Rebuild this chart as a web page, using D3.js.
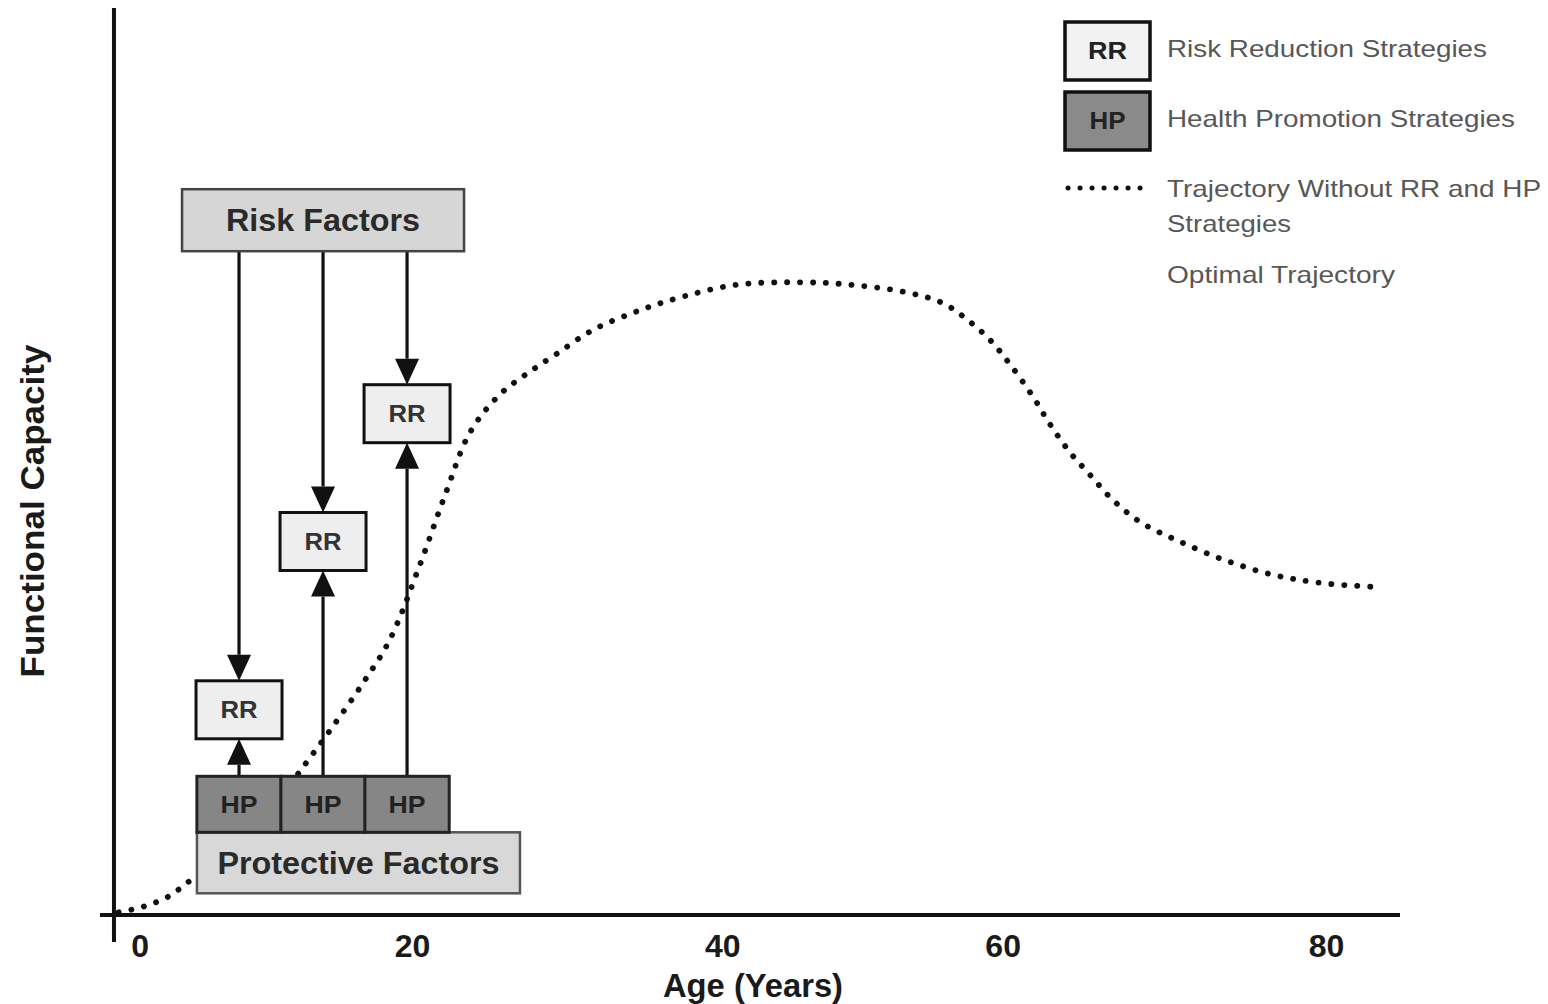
<!DOCTYPE html>
<html><head><meta charset="utf-8">
<script src="https://cdn.jsdelivr.net/npm/d3@7"></script>
<style>
html,body{margin:0;padding:0;background:#fff;}
svg{display:block;font-family:"Liberation Sans",Arial,sans-serif;}
</style></head>
<body>
<svg id="chart" width="1548" height="1004"></svg>
<script>
// ---- data ----
const ages = [-0.6, 1, 2.7, 4.2, 6, 8, 10, 11.6, 13.7, 15.9, 17.7, 19.7, 21.5, 23.1, 25.1, 27, 29, 31.4, 34.1, 36.6, 41, 45.5, 49, 52.5, 55, 56.7, 58.2, 59.5, 61.1, 62.3, 63.6, 64.9, 66.5, 68.4, 71, 74.1, 77.3, 80.5, 84.7];
const capacity = [0.3, 0.9, 2.0, 3.8, 6.0, 8.9, 12.4, 15.9, 20.6, 25.8, 30.6, 38.8, 47.0, 53.6, 57.8, 60.2, 62.4, 65.0, 66.9, 68.3, 70.0, 70.3, 70.0, 69.2, 68.0, 66.1, 63.9, 61.3, 57.6, 54.4, 51.4, 49.0, 46.1, 43.6, 41.5, 39.4, 37.8, 36.9, 36.4];
const xTicks = [0, 20, 40, 60, 80];
const strategyAges = [7.52, 13.19, 18.86];
const rrLevels = [22.8, 41.5, 55.7];
const hpLevel = 12.3;
const riskFactors = {label: "Risk Factors", age: 13.19, level: 77.2};
const protectiveFactors = {label: "Protective Factors", age: 15.58, level: 5.8};
const legendLabels = ["Risk Reduction Strategies", "Health Promotion Strategies", "Trajectory Without RR and HP", "Strategies", "Optimal Trajectory"];
const xTitle = "Age (Years)";
const yTitle = "Functional Capacity";

// ---- scales ----
const x = d3.scaleLinear().domain([0, 80]).range([127.6, 1313]);
const y = d3.scaleLinear().domain([0, 100]).range([915, 15]);

const svg = d3.select("#chart");

// trajectory
const pts = ages.map((a, i) => [a, capacity[i]]);
const line = d3.line().x(d => x(d[0])).y(d => y(d[1])).curve(d3.curveCatmullRom.alpha(0.5));
svg.append("path").attr("d", line(pts))
  .attr("fill", "none").attr("stroke", "#111").attr("stroke-width", 5.8)
  .attr("stroke-linecap", "round").attr("stroke-dasharray", "0.1 12.8");

// axes lines
const ax = x(-0.92);
svg.append("line").attr("x1", ax).attr("x2", ax).attr("y1", 8).attr("y2", 942)
  .attr("stroke", "#111").attr("stroke-width", 4);
svg.append("line").attr("x1", 100).attr("x2", 1400).attr("y1", y(0)).attr("y2", y(0))
  .attr("stroke", "#111").attr("stroke-width", 4);

// tick labels
const xAxis = d3.axisBottom(x).tickValues(xTicks).tickSize(0).tickPadding(0);
const gx = svg.append("g").attr("transform", `translate(0,${y(0)})`).call(xAxis);
gx.select(".domain").remove();
gx.selectAll("text").attr("font-size", 32).attr("font-weight", "bold")
  .attr("font-family", "Liberation Sans, Arial, sans-serif").attr("fill", "#1a1a1a")
  .attr("dy", 0).attr("y", 42)
  .attr("dx", (d, i) => [12, -12, 2, -14, 13][i]);

svg.append("text").attr("x", 753).attr("y", 997).attr("text-anchor", "middle")
  .attr("font-size", 33).attr("font-weight", "bold").attr("fill", "#1a1a1a")
  .attr("textLength", 180).attr("lengthAdjust", "spacingAndGlyphs").text(xTitle);
svg.append("text").attr("transform", "translate(44,511) rotate(-90)").attr("text-anchor", "middle")
  .attr("font-size", 33).attr("font-weight", "bold").attr("fill", "#1a1a1a")
  .attr("textLength", 333).attr("lengthAdjust", "spacingAndGlyphs").text(yTitle);

// arrows
const arrowW = 24, arrowH = 26;
function arrow(px, yFrom, yTo) {
  const dir = yTo > yFrom ? 1 : -1;
  const base = yTo - dir * arrowH;
  svg.append("line").attr("x1", px).attr("x2", px).attr("y1", yFrom).attr("y2", base)
    .attr("stroke", "#111").attr("stroke-width", 3.2);
  svg.append("path").attr("d", `M${px - arrowW / 2},${base}L${px + arrowW / 2},${base}L${px},${yTo}Z`)
    .attr("fill", "#111");
}
const rrW = 86, rrH = 58, hpW = 84.3, hpH = 56;
const rfW = 282, rfH = 62, pfW = 323, pfH = 61;
strategyAges.forEach((a, i) => {
  const px = x(a);
  arrow(px, y(riskFactors.level) + rfH / 2, y(rrLevels[i]) - rrH / 2);
  arrow(px, y(hpLevel) - hpH / 2, y(rrLevels[i]) + rrH / 2);
});

// boxes
function box(cx, cy, w, h, fill, stroke, sw, label, fs, color, tl) {
  svg.append("rect").attr("x", cx - w / 2).attr("y", cy - h / 2).attr("width", w).attr("height", h)
    .attr("fill", fill).attr("stroke", stroke).attr("stroke-width", sw);
  svg.append("text").attr("x", cx).attr("y", cy).attr("dy", "0.36em").attr("text-anchor", "middle")
    .attr("font-size", fs).attr("font-weight", "bold").attr("fill", color)
    .attr("textLength", tl).attr("lengthAdjust", "spacingAndGlyphs").text(label);
}
box(x(riskFactors.age), y(riskFactors.level), rfW, rfH, "#d6d6d6", "#444", 2.5, riskFactors.label, 31, "#2a2a2a", 194);
box(x(protectiveFactors.age), y(protectiveFactors.level), pfW, pfH, "#d8d8d8", "#555", 2.5, protectiveFactors.label, 31, "#2a2a2a", 282);
strategyAges.forEach((a, i) => {
  box(x(a), y(rrLevels[i]), rrW, rrH, "#eeeeee", "#111", 3, "RR", 23, "#333", 37);
  box(x(a), y(hpLevel), hpW, hpH, "#868686", "#222", 3, "HP", 23, "#222", 37);
});

// legend
box(1107.5, 51, 85, 58, "#f2f2f2", "#111", 3.5, "RR", 23, "#222", 39);
box(1107.5, 121, 85, 58, "#8a8a8a", "#111", 3.5, "HP", 23, "#222", 36);
svg.append("line").attr("x1", 1068).attr("x2", 1141).attr("y1", 188).attr("y2", 188)
  .attr("stroke", "#111").attr("stroke-width", 5).attr("stroke-linecap", "round")
  .attr("stroke-dasharray", "0.1 11.9");
const legY = [57, 127, 197, 232, 283];
const legW = [320, 348, 374, 124, 228];
legendLabels.forEach((t, i) => {
  svg.append("text").attr("x", 1167).attr("y", legY[i]).attr("font-size", 24)
    .attr("fill", "#575757").attr("textLength", legW[i]).attr("lengthAdjust", "spacingAndGlyphs").text(t);
});
</script>
</body></html>
